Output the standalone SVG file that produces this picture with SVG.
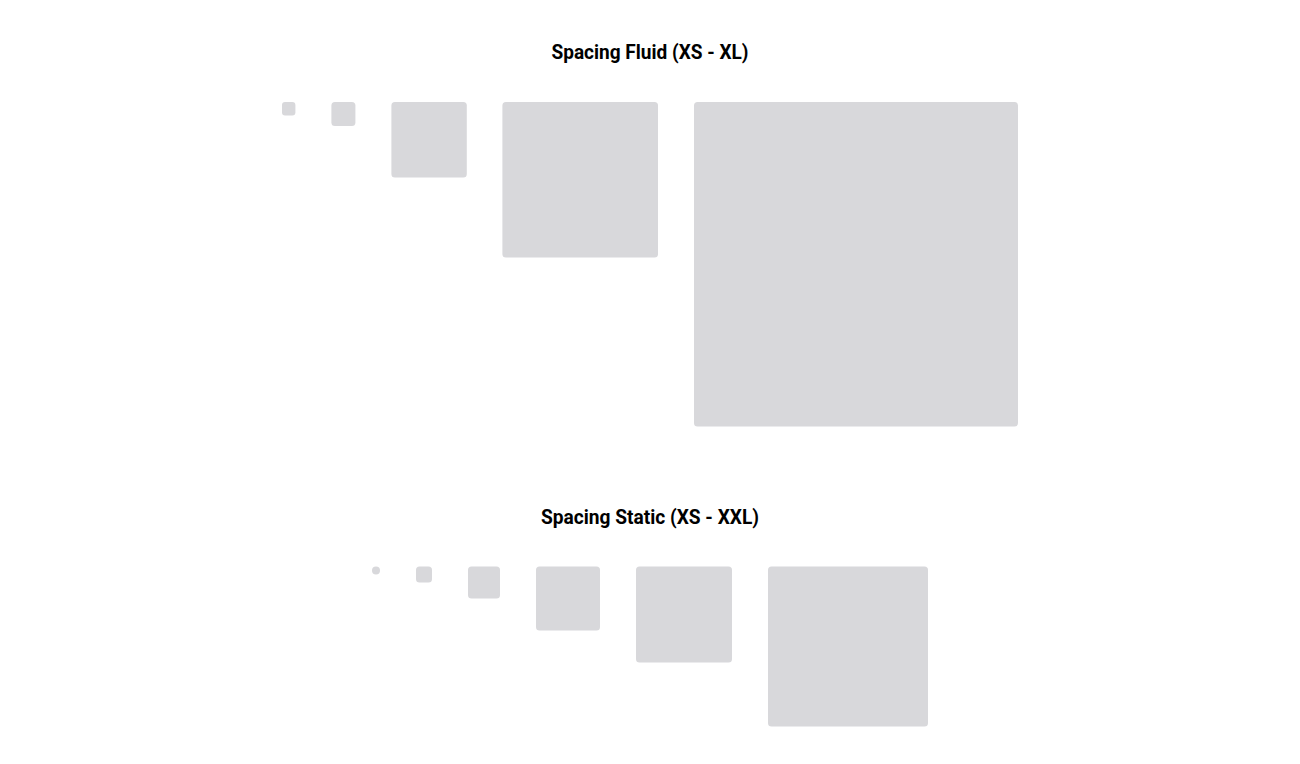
<svg xmlns="http://www.w3.org/2000/svg" width="1300" height="764" viewBox="0 0 1300 764">
  <style>
    .box { fill: #d8d8db; }
    .title { font-family: "Roboto", "Liberation Sans", sans-serif; font-weight: bold; font-size: 20px; fill: #000; text-anchor: middle; }
  </style>
  <rect width="1300" height="764" fill="#ffffff"/>
  <g id="fluid">
    <text class="title" x="650" y="59" textLength="197" lengthAdjust="spacingAndGlyphs">Spacing Fluid (XS - XL)</text>
    <g id="fluid-xs"><rect class="box" x="282" y="102" width="13.4" height="13.4" rx="3"/></g>
    <g id="fluid-sm"><rect class="box" x="331.4" y="102" width="24" height="24" rx="3.5"/></g>
    <g id="fluid-md"><rect class="box" x="391.4" y="102" width="75.4" height="75.4" rx="3.5"/></g>
    <g id="fluid-lg"><rect class="box" x="502.4" y="102" width="155.6" height="155.6" rx="3.5"/></g>
    <g id="fluid-xl"><rect class="box" x="694" y="102" width="324" height="324.5" rx="3.5"/></g>
  </g>
  <g id="static">
    <text class="title" x="650" y="524" textLength="218" lengthAdjust="spacingAndGlyphs">Spacing Static (XS - XXL)</text>
    <g id="static-xs"><rect class="box" x="372" y="566.5" width="8" height="8" rx="4"/></g>
    <g id="static-sm"><rect class="box" x="416" y="566.5" width="16" height="16" rx="3.5"/></g>
    <g id="static-md"><rect class="box" x="468" y="566.5" width="32" height="32" rx="3.5"/></g>
    <g id="static-lg"><rect class="box" x="536" y="566.5" width="64" height="64" rx="3.5"/></g>
    <g id="static-xl"><rect class="box" x="636" y="566.5" width="96" height="96" rx="3.5"/></g>
    <g id="static-xxl"><rect class="box" x="768" y="566.5" width="160" height="160" rx="3.5"/></g>
  </g>
  <g id="connectors"/>
</svg>
